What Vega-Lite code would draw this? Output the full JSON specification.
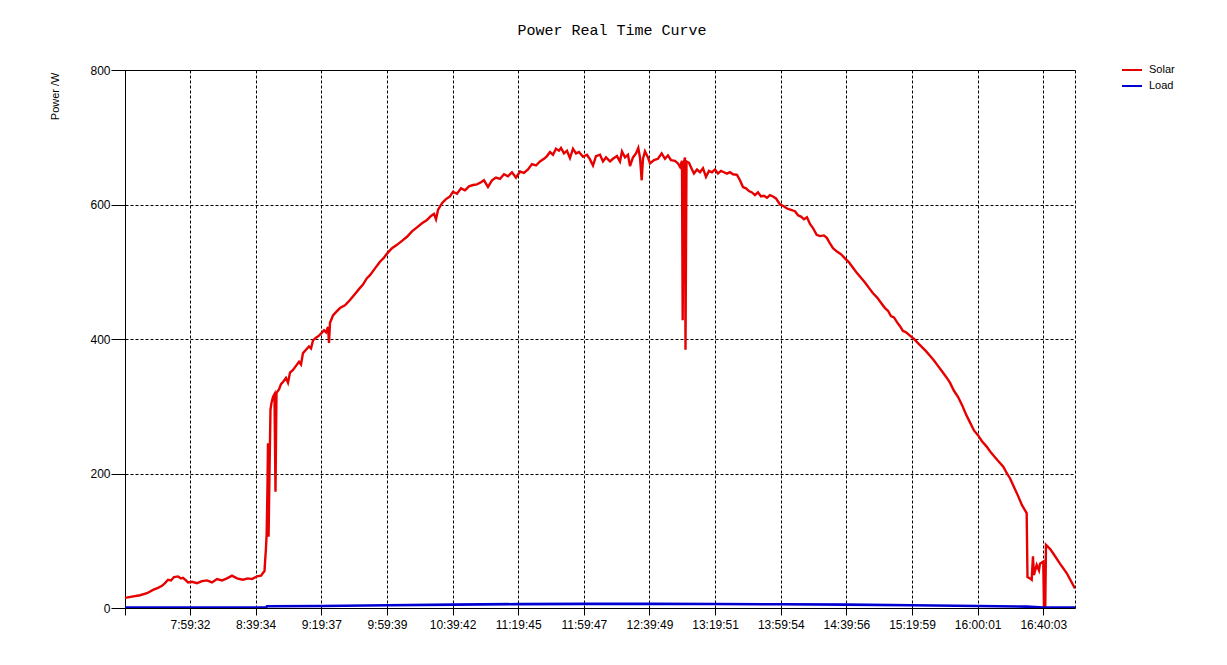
{
  "$schema": "https://vega.github.io/schema/vega-lite/v6.json",
  "description": "Power real time curve: solar and load power over one day.",
  "width": 950,
  "height": 538,
  "autosize": {"type": "none"},
  "padding": {"left": 125, "top": 70, "right": 152, "bottom": 57},
  "background": "white",
  "title": {
    "text": "Power Real Time Curve",
    "font": "Liberation Mono",
    "fontSize": 15,
    "fontWeight": "normal",
    "color": "black",
    "anchor": "middle",
    "offset": 21,
    "dx": 12
  },
  "datasets": {
    "solar": [
      {"t": 439.88, "w": 15}, {"t": 444.15, "w": 17}, {"t": 449.03, "w": 19}, {"t": 453.3, "w": 22},
      {"t": 456.96, "w": 27}, {"t": 460.01, "w": 30}, {"t": 462.45, "w": 33}, {"t": 464.28, "w": 37},
      {"t": 466.11, "w": 42}, {"t": 467.94, "w": 41}, {"t": 469.77, "w": 46}, {"t": 472.21, "w": 47},
      {"t": 474.04, "w": 44}, {"t": 475.26, "w": 45}, {"t": 477.09, "w": 41}, {"t": 478.31, "w": 38},
      {"t": 480.75, "w": 39}, {"t": 483.8, "w": 37}, {"t": 486.85, "w": 40}, {"t": 489.9, "w": 41},
      {"t": 492.95, "w": 38}, {"t": 496.0, "w": 43}, {"t": 499.05, "w": 41}, {"t": 502.1, "w": 44},
      {"t": 505.15, "w": 48}, {"t": 508.2, "w": 44}, {"t": 511.86, "w": 42}, {"t": 514.91, "w": 44},
      {"t": 517.35, "w": 43}, {"t": 520.4, "w": 47}, {"t": 522.84, "w": 48}, {"t": 524.06, "w": 52},
      {"t": 524.98, "w": 55}, {"t": 525.28, "w": 67}, {"t": 525.89, "w": 90}, {"t": 526.31, "w": 111},
      {"t": 526.8, "w": 180}, {"t": 527.11, "w": 245}, {"t": 527.47, "w": 106}, {"t": 528.02, "w": 200},
      {"t": 528.63, "w": 295}, {"t": 529.24, "w": 305}, {"t": 530.16, "w": 314}, {"t": 531.07, "w": 318},
      {"t": 531.68, "w": 173}, {"t": 532.29, "w": 320}, {"t": 533.82, "w": 325}, {"t": 535.04, "w": 333},
      {"t": 536.26, "w": 336}, {"t": 538.09, "w": 342}, {"t": 539.31, "w": 335}, {"t": 540.53, "w": 350},
      {"t": 542.36, "w": 354}, {"t": 544.19, "w": 360}, {"t": 546.02, "w": 366}, {"t": 547.24, "w": 362},
      {"t": 548.46, "w": 379}, {"t": 550.29, "w": 384}, {"t": 552.12, "w": 389}, {"t": 553.34, "w": 386},
      {"t": 554.56, "w": 398}, {"t": 556.39, "w": 402}, {"t": 558.22, "w": 405}, {"t": 559.87, "w": 409},
      {"t": 561.27, "w": 413}, {"t": 562.49, "w": 410}, {"t": 563.71, "w": 418}, {"t": 564.32, "w": 394},
      {"t": 564.93, "w": 424}, {"t": 566.76, "w": 435}, {"t": 568.59, "w": 440}, {"t": 571.03, "w": 446},
      {"t": 574.08, "w": 450}, {"t": 577.13, "w": 458}, {"t": 580.18, "w": 467}, {"t": 583.23, "w": 476},
      {"t": 585.06, "w": 481}, {"t": 587.32, "w": 490}, {"t": 589.33, "w": 495}, {"t": 592.38, "w": 505},
      {"t": 595.43, "w": 515}, {"t": 597.87, "w": 521}, {"t": 599.7, "w": 527}, {"t": 602.75, "w": 535},
      {"t": 605.8, "w": 540}, {"t": 608.85, "w": 546}, {"t": 611.9, "w": 552}, {"t": 614.95, "w": 560},
      {"t": 618.0, "w": 566}, {"t": 621.05, "w": 572}, {"t": 624.1, "w": 577}, {"t": 626.54, "w": 583},
      {"t": 628.37, "w": 586}, {"t": 629.59, "w": 578}, {"t": 630.81, "w": 592}, {"t": 633.25, "w": 602},
      {"t": 635.69, "w": 608}, {"t": 638.13, "w": 612}, {"t": 639.96, "w": 619}, {"t": 642.4, "w": 616},
      {"t": 644.84, "w": 624}, {"t": 647.28, "w": 621}, {"t": 649.72, "w": 627}, {"t": 652.16, "w": 629},
      {"t": 654.6, "w": 630}, {"t": 657.04, "w": 633}, {"t": 658.87, "w": 636}, {"t": 661.31, "w": 626},
      {"t": 663.75, "w": 636}, {"t": 666.19, "w": 640}, {"t": 668.63, "w": 638}, {"t": 671.07, "w": 645},
      {"t": 673.51, "w": 642}, {"t": 675.95, "w": 648}, {"t": 678.39, "w": 640}, {"t": 680.83, "w": 649},
      {"t": 683.27, "w": 647}, {"t": 685.71, "w": 652}, {"t": 688.15, "w": 660}, {"t": 690.59, "w": 658},
      {"t": 693.03, "w": 664}, {"t": 695.47, "w": 668}, {"t": 697.3, "w": 672}, {"t": 699.13, "w": 678},
      {"t": 700.96, "w": 674}, {"t": 702.79, "w": 683}, {"t": 704.62, "w": 680}, {"t": 705.84, "w": 684},
      {"t": 707.67, "w": 676}, {"t": 709.5, "w": 680}, {"t": 711.33, "w": 669}, {"t": 713.16, "w": 683},
      {"t": 714.99, "w": 676}, {"t": 716.82, "w": 678}, {"t": 719.26, "w": 671}, {"t": 721.7, "w": 674},
      {"t": 723.53, "w": 667}, {"t": 725.36, "w": 658}, {"t": 727.19, "w": 672}, {"t": 729.63, "w": 674},
      {"t": 731.46, "w": 664}, {"t": 733.29, "w": 670}, {"t": 735.73, "w": 664}, {"t": 737.56, "w": 668},
      {"t": 740.0, "w": 672}, {"t": 741.83, "w": 664}, {"t": 743.05, "w": 679}, {"t": 744.88, "w": 670},
      {"t": 746.71, "w": 674}, {"t": 747.93, "w": 657}, {"t": 749.76, "w": 670}, {"t": 751.59, "w": 676},
      {"t": 752.99, "w": 684}, {"t": 754.03, "w": 670}, {"t": 755.07, "w": 636}, {"t": 755.86, "w": 668},
      {"t": 757.08, "w": 679}, {"t": 758.91, "w": 670}, {"t": 760.13, "w": 661}, {"t": 762.57, "w": 666},
      {"t": 765.01, "w": 668}, {"t": 767.27, "w": 676}, {"t": 769.28, "w": 668}, {"t": 771.11, "w": 673},
      {"t": 772.94, "w": 666}, {"t": 775.38, "w": 665}, {"t": 777.21, "w": 661}, {"t": 778.43, "w": 656},
      {"t": 779.65, "w": 665}, {"t": 780.08, "w": 428}, {"t": 780.57, "w": 660}, {"t": 781.48, "w": 670},
      {"t": 781.79, "w": 384}, {"t": 782.4, "w": 664}, {"t": 783.92, "w": 662}, {"t": 785.75, "w": 652},
      {"t": 786.97, "w": 646}, {"t": 788.8, "w": 652}, {"t": 790.63, "w": 648}, {"t": 792.46, "w": 654},
      {"t": 794.29, "w": 641}, {"t": 796.12, "w": 650}, {"t": 797.95, "w": 648}, {"t": 799.78, "w": 652},
      {"t": 801.61, "w": 646}, {"t": 803.44, "w": 650}, {"t": 805.27, "w": 648}, {"t": 807.1, "w": 646},
      {"t": 808.93, "w": 648}, {"t": 810.76, "w": 645}, {"t": 813.2, "w": 644}, {"t": 815.03, "w": 636},
      {"t": 816.86, "w": 626}, {"t": 818.69, "w": 624}, {"t": 820.52, "w": 620}, {"t": 822.35, "w": 618},
      {"t": 824.18, "w": 614}, {"t": 826.01, "w": 618}, {"t": 827.84, "w": 612}, {"t": 829.67, "w": 613},
      {"t": 831.5, "w": 610}, {"t": 833.33, "w": 614}, {"t": 835.16, "w": 612}, {"t": 836.99, "w": 609},
      {"t": 839.43, "w": 600}, {"t": 841.26, "w": 598}, {"t": 843.7, "w": 594}, {"t": 846.14, "w": 592},
      {"t": 848.58, "w": 590}, {"t": 850.41, "w": 584}, {"t": 852.24, "w": 582}, {"t": 854.07, "w": 578},
      {"t": 855.9, "w": 581}, {"t": 857.73, "w": 571}, {"t": 859.56, "w": 565}, {"t": 861.82, "w": 555},
      {"t": 863.83, "w": 553}, {"t": 866.27, "w": 554}, {"t": 868.1, "w": 550}, {"t": 869.93, "w": 542},
      {"t": 871.76, "w": 535}, {"t": 874.2, "w": 530}, {"t": 876.64, "w": 526}, {"t": 879.08, "w": 520},
      {"t": 881.52, "w": 514}, {"t": 883.96, "w": 506}, {"t": 886.4, "w": 498}, {"t": 888.84, "w": 491},
      {"t": 891.28, "w": 484}, {"t": 893.72, "w": 476}, {"t": 896.16, "w": 468}, {"t": 898.6, "w": 462},
      {"t": 901.04, "w": 454}, {"t": 903.48, "w": 446}, {"t": 905.31, "w": 442}, {"t": 907.14, "w": 434},
      {"t": 908.97, "w": 432}, {"t": 910.8, "w": 425}, {"t": 912.63, "w": 419}, {"t": 914.46, "w": 412},
      {"t": 916.29, "w": 410}, {"t": 918.73, "w": 405}, {"t": 921.17, "w": 400}, {"t": 923.61, "w": 394},
      {"t": 926.05, "w": 388}, {"t": 928.49, "w": 382}, {"t": 930.93, "w": 375}, {"t": 933.37, "w": 368},
      {"t": 935.81, "w": 360}, {"t": 938.25, "w": 352}, {"t": 940.69, "w": 344}, {"t": 943.13, "w": 335},
      {"t": 945.57, "w": 323}, {"t": 948.01, "w": 314}, {"t": 950.45, "w": 302}, {"t": 952.89, "w": 288},
      {"t": 955.33, "w": 276}, {"t": 957.77, "w": 264}, {"t": 960.21, "w": 257}, {"t": 962.65, "w": 248},
      {"t": 965.52, "w": 240}, {"t": 967.53, "w": 233}, {"t": 969.54, "w": 227}, {"t": 972.41, "w": 219},
      {"t": 975.64, "w": 210}, {"t": 977.9, "w": 200}, {"t": 979.73, "w": 193}, {"t": 982.17, "w": 180},
      {"t": 984.79, "w": 166}, {"t": 987.05, "w": 153}, {"t": 989.92, "w": 141}, {"t": 990.41, "w": 46},
      {"t": 991.93, "w": 44}, {"t": 992.97, "w": 42}, {"t": 993.76, "w": 77}, {"t": 994.37, "w": 49},
      {"t": 996.02, "w": 64}, {"t": 997.42, "w": 56}, {"t": 998.03, "w": 66}, {"t": 1000.04, "w": 69},
      {"t": 1000.47, "w": 2}, {"t": 1001.26, "w": 2}, {"t": 1001.69, "w": 94}, {"t": 1004.13, "w": 88},
      {"t": 1006.14, "w": 81}, {"t": 1010.23, "w": 66}, {"t": 1014.32, "w": 52}, {"t": 1019.38, "w": 29}
    ],
    "load": [
      {"t": 439.88, "w": 0.6}, {"t": 525.9, "w": 0.6}, {"t": 526.5, "w": 2.5}, {"t": 560, "w": 3},
      {"t": 600, "w": 4}, {"t": 640, "w": 5}, {"t": 680, "w": 5.8}, {"t": 720, "w": 6.2},
      {"t": 760, "w": 6.2}, {"t": 800, "w": 6}, {"t": 840, "w": 5.5}, {"t": 880, "w": 5},
      {"t": 920, "w": 4}, {"t": 960, "w": 3}, {"t": 990, "w": 2}, {"t": 1000, "w": 0.8},
      {"t": 1019.38, "w": 0.8}
    ]
  },
  "config": {
    "view": {"stroke": null},
    "axis": {
      "labelFont": "Liberation Sans",
      "labelFontSize": 12,
      "labelColor": "black",
      "domainColor": "black",
      "domainWidth": 1,
      "tickColor": "black",
      "gridColor": "black",
      "gridDash": [3, 2],
      "gridOpacity": 1,
      "gridWidth": 1
    }
  },
  "layer": [
    {
      "data": {"name": "solar"},
      "mark": {"type": "line", "strokeWidth": 2.4, "clip": true},
      "encoding": {
        "x": {
          "field": "t",
          "type": "quantitative",
          "scale": {"domain": [439.88, 1019.4], "nice": false, "zero": false},
          "axis": {
            "title": null,
            "values": [439.88, 479.53333, 519.56667, 559.61667, 599.65, 639.7, 679.75, 719.78333, 759.81667, 799.85, 839.9, 879.93333, 919.98333, 960.01667, 1000.05],
            "labelExpr": "datum.value < 450 ? '' : timeFormat(datetime(2020, 0, 1, 0, 0, round(datum.value * 60)), '%-H:%M:%S')",
            "tickSize": 7,
            "labelPadding": 4,
            "labelFlush": false,
            "labelOverlap": false,
            "grid": true
          }
        },
        "y": {
          "field": "w",
          "type": "quantitative",
          "scale": {"domain": [0, 800], "nice": false},
          "axis": {
            "values": [0, 200, 400, 600, 800],
            "tickSize": 14,
            "labelPadding": 1,
            "grid": true,
            "title": "Power /W",
            "titleFont": "Liberation Sans",
            "titleFontSize": 11,
            "titleFontWeight": "normal",
            "titleColor": "black",
            "titleAngle": 270,
            "titleAlign": "right",
            "titleBaseline": "alphabetic",
            "titleX": -67,
            "titleY": 2
          }
        },
        "color": {
          "datum": "Solar",
          "scale": {"domain": ["Solar", "Load"], "range": ["#e60000", "#0000d0"]},
          "legend": {
            "title": null,
            "orient": "none",
            "legendX": 996,
            "legendY": -11,
            "padding": 0,
            "symbolType": "stroke",
            "symbolSize": 400,
            "symbolStrokeWidth": 2,
            "labelFont": "Liberation Sans",
            "labelFontSize": 11,
            "labelColor": "black",
            "labelOffset": 6,
            "rowPadding": -8
          }
        }
      }
    },
    {
      "data": {"name": "load"},
      "mark": {"type": "line", "strokeWidth": 2.6, "clip": true},
      "encoding": {
        "x": {
          "field": "t",
          "type": "quantitative",
          "axis": {"orient": "top", "title": null, "labels": false, "ticks": false, "grid": false}
        },
        "y": {
          "field": "w",
          "type": "quantitative",
          "axis": {"orient": "right", "title": null, "labels": false, "ticks": false, "grid": false, "domainDash": [3, 2]}
        },
        "color": {"datum": "Load"}
      }
    }
  ],
  "resolve": {"axis": {"x": "independent", "y": "independent"}}
}
